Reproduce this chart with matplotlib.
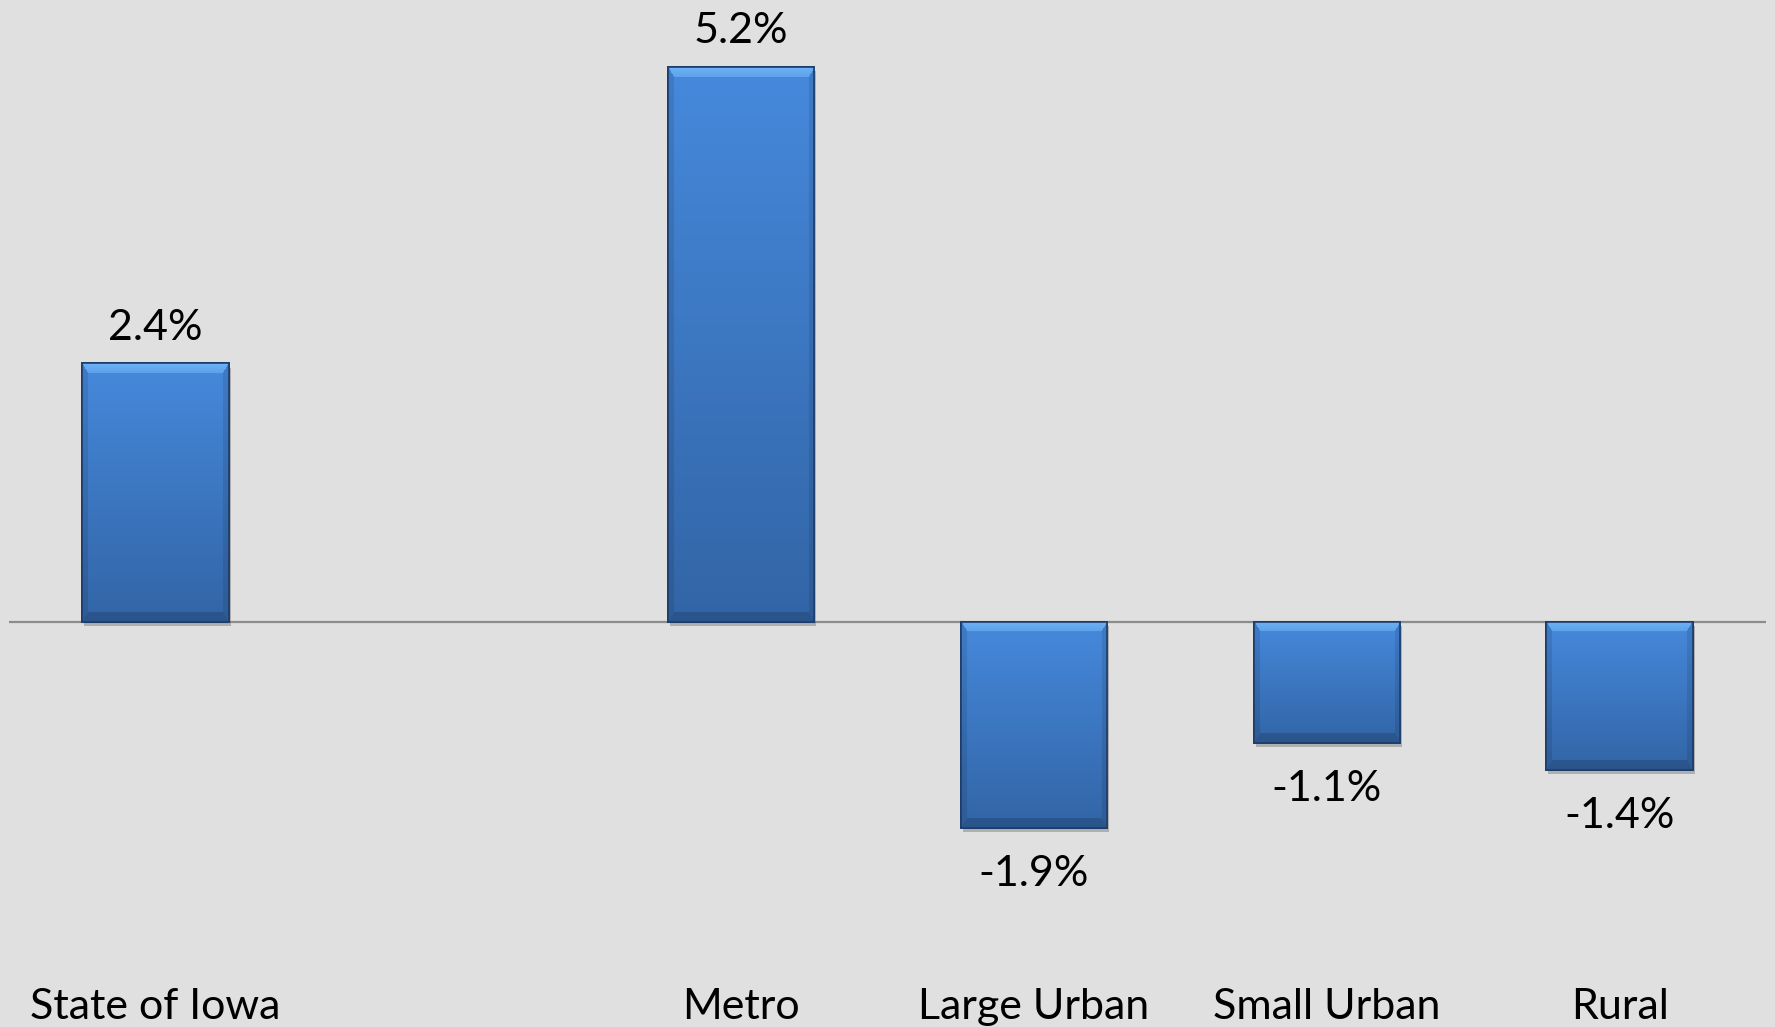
import numpy as np
import matplotlib.pyplot as plt
from matplotlib import patheffects

plt.rcParams['font.family'] = ['Lato', 'DejaVu Sans']

# data (index 1 is an empty slot between Iowa and Metro)
categories = ['State of Iowa', '', 'Metro', 'Large Urban', 'Small Urban', 'Rural']
values = [2.4, np.nan, 5.16, -1.92, -1.13, -1.38]
value_labels = ['2.4%', '', '5.2%', '-1.9%', '-1.1%', '-1.4%']

BG = '#e0e0e0'
TOP = np.array([70, 137, 220]) / 255
BOTTOM = np.array([50, 101, 166]) / 255
BEVEL_TOP = np.array([108, 178, 244]) / 255
EDGE = '#1f3d6b'


def bevel_image(h_px, w_px, bevel_tb=10, bevel_lr=6):
    # vertical gradient body with mitred bevel faces
    yy, xx = np.mgrid[0:h_px, 0:w_px].astype(float)
    t = (yy / max(h_px - 1, 1))[..., None]
    img = TOP * (1 - t) + BOTTOM * t
    dt = yy / bevel_tb
    db = (h_px - 1 - yy) / bevel_tb
    dl = xx / bevel_lr
    dr = (w_px - 1 - xx) / bevel_lr
    d = np.stack([dt, db, dl, dr])
    face = d.argmin(axis=0)
    inside = d.min(axis=0) < 1
    out = img.copy()
    m = inside & (face == 0)
    k = dt[m][:, None]
    out[m] = BEVEL_TOP * (1 - 0.4 * k) + img[m] * 0.4 * k
    m = inside & (face == 1)
    out[m] = img[m] * 0.84
    m = inside & ((face == 2) | (face == 3))
    out[m] = img[m] * 0.9
    return np.clip(out, 0, 1)


fig = plt.figure(figsize=(17.75, 10.27), dpi=100, facecolor=BG)
ax = fig.add_axes([9 / 1775, 0, 1757 / 1775, 1])
ax.set_facecolor(BG)
ax.axis('off')

x = np.arange(len(categories))
mask = ~np.isnan(values)
width = 0.5
bars = ax.bar(x[mask], np.array(values)[mask], width=width, color=TOP,
              edgecolor=EDGE, linewidth=1.2, zorder=2)

ax.set_xlim(-0.5, 5.5)
ax.set_ylim(-3.77, 5.78)
px_per_x = 1757 / 6
px_per_y = 1027 / (5.78 + 3.77)

for b in bars:
    b.set_path_effects([patheffects.withSimplePatchShadow(offset=(1.5, -3), shadow_rgbFace='#555555', alpha=0.35),
                        patheffects.Normal()])
    x0, y0 = b.get_x(), b.get_y()
    w, h = b.get_width(), b.get_height()
    y_lo, y_hi = min(y0, y0 + h), max(y0, y0 + h)
    img = bevel_image(int(round((y_hi - y_lo) * px_per_y)), int(round(w * px_per_x)))
    im = ax.imshow(img, extent=[x0, x0 + w, y_lo, y_hi], origin='upper',
                   aspect='auto', interpolation='bilinear', zorder=3)
    im.set_clip_path(b)
    ax.add_patch(plt.Rectangle((x0, y_lo), w, y_hi - y_lo, fill=False,
                               edgecolor=EDGE, linewidth=1.2, zorder=4))

ax.axhline(0, color='#8c8c8c', linewidth=1.6, zorder=1)
ax.set_xlim(-0.5, 5.5)
ax.set_ylim(-3.77, 5.78)

for xi, v, lab in zip(x, values, value_labels):
    if np.isnan(v):
        continue
    if v >= 0:
        ax.annotate(lab, (xi, v), xytext=(0, 17), textcoords='offset points',
                    ha='center', va='baseline', fontsize=31, color='black')
    else:
        ax.annotate(lab, (xi, v), xytext=(0, -42), textcoords='offset points',
                    ha='center', va='baseline', fontsize=31, color='black')

for xi, cat in zip(x, categories):
    ax.text(xi, -3.70, cat, ha='center', va='baseline', fontsize=31, color='black')

fig.savefig('out.png', dpi=100, facecolor=BG)
